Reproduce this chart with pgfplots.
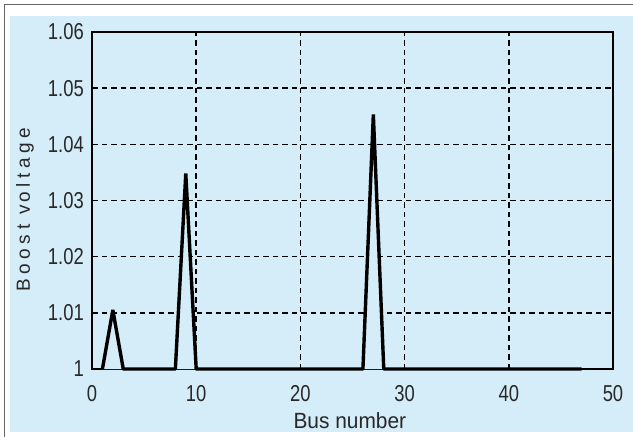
\documentclass[border=0pt]{standalone}
\usepackage{fontspec}
\setmainfont{Liberation Sans}
\newfontfamily\tickfont[FakeStretch=0.8]{Liberation Sans}
\newfontfamily\labfont[FakeStretch=0.95]{Liberation Sans}
\newfontfamily\ylabfont[LetterSpace=24]{Liberation Sans}
\usepackage{pgfplots}
\pgfplotsset{compat=1.18}
\definecolor{bgblue}{RGB}{213,236,249}
\definecolor{txt}{RGB}{40,40,40}
\definecolor{frame}{RGB}{100,100,100}
\begin{document}
\begin{tikzpicture}[x=1pt,y=1pt]
\useasboundingbox (0,0) rectangle (633,437);
\fill[white] (0,0) rectangle (633,437);
\fill[bgblue] (10,5) rectangle (633,421);
\draw[frame, line width=1.4pt] (4.5,0) -- (4.5,432.5) -- (633,432.5);
\begin{axis}[
  at={(92pt,68pt)}, anchor=south west,
  width=521pt, height=337pt, scale only axis,
  xmin=0, xmax=50, ymin=1, ymax=1.06,
  clip=false,
  xtick={0,10,20,30,40,50},
  xticklabels={0,10,20,30,40,50},
  ytick={1,1.01,1.02,1.03,1.04,1.05,1.06},
  yticklabels={1,1.01,1.02,1.03,1.04,1.05,1.06},
  grid=major,
  major grid style={black, dash pattern=on 5.5pt off 4pt, line width=1.6pt},
  axis line style={black, line width=1.3pt},
  tick style={draw=none},
  xticklabel style={font=\tickfont\fontsize{23}{23}\selectfont, text=txt, anchor=north, inner sep=0pt, yshift=-16pt},
  yticklabel style={font=\tickfont\fontsize{23}{23}\selectfont, text=txt, anchor=east, inner sep=0pt, xshift=-8pt},
  xlabel={Bus number},
  xlabel style={at={(axis description cs:0.495,0)}, anchor=base, inner sep=0pt, yshift=-59pt, font=\labfont\fontsize{22}{22}\selectfont, text=txt},
  ylabel={Boost v\hspace{3pt}oltage},
  ylabel style={at={(axis description cs:-0.119,0.473)}, anchor=base, inner sep=0pt, font=\ylabfont\fontsize{19}{19}\selectfont, text=txt},
]
\addplot[black, line width=3.4pt, line join=bevel, fill=bgblue] coordinates {
  (1,1) (2,1.0105) (3,1) (8,1) (9,1.0348) (10,1) (26,1) (27,1.0453) (28,1) (47,1)
};
\end{axis}
\end{tikzpicture}
\end{document}
